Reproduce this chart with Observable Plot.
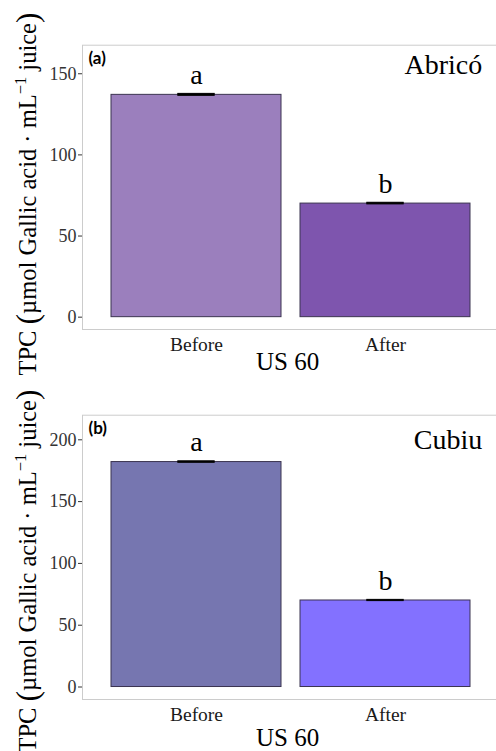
<!DOCTYPE html>
<html><head><meta charset="utf-8">
<script src="https://cdn.jsdelivr.net/npm/d3@7"></script>
<script src="https://cdn.jsdelivr.net/npm/@observablehq/plot@0.6"></script>
<style>
body{margin:0;background:#fff}
#chart{position:relative;width:496px;height:751px;overflow:hidden}
#chart svg{display:block;overflow:visible;background:none !important}
#chart svg text{font-family:'Liberation Serif','Times New Roman',serif}
</style>
</head><body><div id="chart"></div>
<script>
const treatments = ["Before", "After"];
const abricoValues = [137, 70];
const abricoErrors = [0.6, 0.5];
const abricoLetters = ["a", "b"];
const cubiuValues = [182, 70];
const cubiuErrors = [0.6, 0.5];
const cubiuLetters = ["a", "b"];
const abricoColors = ["#9b7fbd", "#7e55ae"];
const cubiuColors = ["#7676b0", "#8371ff"];
const abricoTicks = [0, 50, 100, 150];
const cubiuTicks = [0, 50, 100, 150, 200];
const xTitle = "US 60";

const SERIF = "'Liberation Serif', 'Times New Roman', serif";
const TAGFONT = "Lato, 'Open Sans', sans-serif";

function panel({values, errors, letters, colors, ticks, domain, tag, name, height, marginBottom, nameDy, titleDy, labelCy}) {
  const data = treatments.map((t, i) => ({t, v: values[i], e: errors[i], letter: letters[i]}));
  const svg = Plot.plot({
    width: 496, height,
    marginTop: 44.7, marginLeft: 82, marginRight: -3.3, marginBottom,
    style: {fontFamily: SERIF, fontSize: "18px", color: "#333", background: "none", overflow: "visible"},
    x: {domain: treatments, paddingInner: 0.1, paddingOuter: 0.15, axis: null},
    y: {domain, ticks, tickSize: 4, tickPadding: 2, label: null, tickFormat: d3.format("d")},
    color: {domain: treatments, range: colors},
    marks: [
      Plot.frame({stroke: "#cccccc", strokeWidth: 1}),
      Plot.barY(data, {x: "t", y: "v", fill: "t", stroke: "#3b3450", strokeWidth: 1}),
      Plot.barY(data, {x: "t", y1: d => d.v - d.e, y2: d => d.v + d.e, fill: "#000", stroke: "#000", strokeWidth: 1, insetLeft: 66.8, insetRight: 66.8}),
      Plot.text(data, {x: "t", y: d => d.v + d.e, text: "letter", lineAnchor: "bottom", dy: -10, fontSize: 28, fill: "#000"}),
      Plot.text(data, {x: "t", text: "t", frameAnchor: "bottom", lineAnchor: "bottom", dy: 21, fontSize: 19.5, fill: "#1a1a1a"}),
      Plot.text([xTitle], {text: d => d, frameAnchor: "bottom", lineAnchor: "bottom", dy: titleDy, dx: -3.6, fontSize: 25, fill: "#000"}),
      Plot.text([tag], {text: d => d, frameAnchor: "top-left", lineAnchor: "bottom", textAnchor: "start", dx: 6, dy: 18.6, fontWeight: "bold", fontSize: 17, fill: "#000"}),
      Plot.text([name], {text: d => d, frameAnchor: "top-right", lineAnchor: "bottom", textAnchor: "end", dx: -17.6, dy: nameDy, fontSize: 28, fill: "#000"})
    ]
  });
  d3.select(svg).selectAll("text").filter(function() { return this.textContent === tag; })
    .style("font-family", TAGFONT);
  const lab = d3.select(svg).append("text")
    .attr("transform", `translate(36,${labelCy}) rotate(-90)`)
    .attr("text-anchor", "middle").attr("font-size", 24.5).attr("fill", "#000");
  lab.append("tspan").text("TPC ");
  lab.append("tspan").attr("font-size", 31.5).attr("dy", 2).text("(");
  lab.append("tspan").attr("font-size", 24.5).attr("dy", -2).text("µmol Gallic acid · mL");
  lab.append("tspan").attr("font-size", 16.5).attr("dy", -10).text("−1");
  lab.append("tspan").attr("font-size", 24.5).attr("dy", 10).text(" juice");
  lab.append("tspan").attr("font-size", 31.5).attr("dy", 2).text(")");
  return svg;
}

const chart = document.getElementById("chart");
chart.append(panel({values: abricoValues, errors: abricoErrors, letters: abricoLetters, colors: abricoColors,
  ticks: abricoTicks, domain: [-7.6, 167.6], tag: "(a)", name: "Abricó", height: 370, marginBottom: 41,
  nameDy: 28.6, titleDy: 40, labelCy: 194}));
chart.append(panel({values: cubiuValues, errors: cubiuErrors, letters: cubiuLetters, colors: cubiuColors,
  ticks: cubiuTicks, domain: [-10.1, 219.9], tag: "(b)", name: "Cubiu", height: 381, marginBottom: 52,
  nameDy: 33.6, titleDy: 46, labelCy: 201}));
</script></body></html>
